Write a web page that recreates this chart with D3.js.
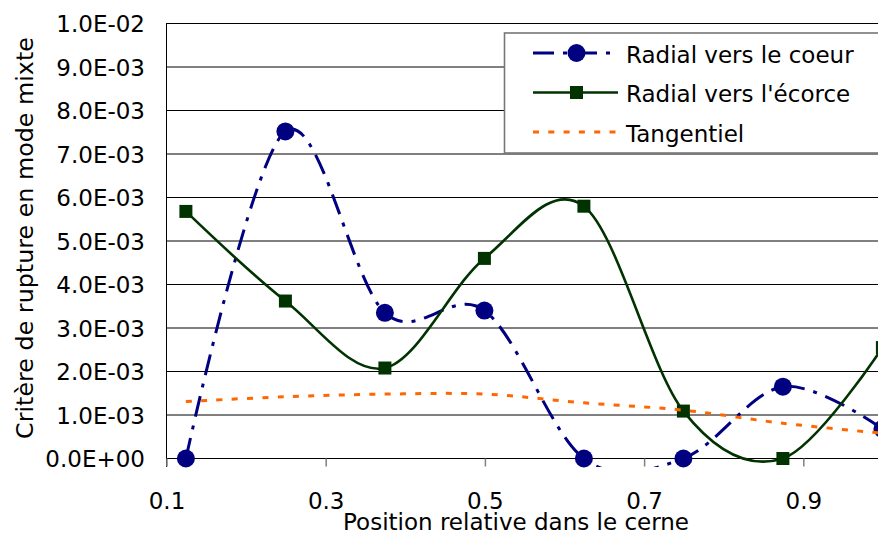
<!DOCTYPE html>
<html>
<head>
<meta charset="utf-8">
<script src="https://cdn.jsdelivr.net/npm/d3@7/dist/d3.min.js"></script>
<style>
  html, body { margin: 0; padding: 0; background: #fff; }
  svg { display: block; }
  text { font-family: "DejaVu Sans", sans-serif; fill: #000; }
</style>
</head>
<body>
<svg id="chart" width="878" height="534"></svg>
<script>
// ---- data ----
const positions = [0.125, 0.25, 0.375, 0.5, 0.625, 0.75, 0.875, 1.0];
const radialCoeur = [0, 7.52e-3, 3.35e-3, 3.40e-3, 0, 0, 1.65e-3, 0.68e-3];
const radialEcorce = [5.68e-3, 3.62e-3, 2.08e-3, 4.60e-3, 5.80e-3, 1.09e-3, 0, 2.55e-3];
const tangentiel = [1.31e-3, 1.42e-3, 1.48e-3, 1.48e-3, 1.28e-3, 1.11e-3, 0.81e-3, 0.58e-3];
const xTickValues = [0.1, 0.3, 0.5, 0.7, 0.9];
const yTickValues = [0, 1e-3, 2e-3, 3e-3, 4e-3, 5e-3, 6e-3, 7e-3, 8e-3, 9e-3, 1e-2];
const seriesNames = ["Radial vers le coeur", "Radial vers l'écorce", "Tangentiel"];
const xTitle = "Position relative dans le cerne";
const yTitle = "Critère de rupture en mode mixte";

// ---- layout ----
const svg = d3.select("#chart");
const x = d3.scaleLinear().domain([0.1, 1.1]).range([166, 962]);
const y = d3.scaleLinear().domain([0, 0.01]).range([458.5, 23.5]);

function sci(v) {
  const s = v.toExponential(1).toUpperCase(); // e.g. 1.0E-2
  const m = s.match(/^(.*)E([+-])(\d+)$/);
  return m[1] + "E" + m[2] + m[3].padStart(2, "0");
}

// gridlines
svg.append("g").selectAll("line").data(yTickValues).join("line")
  .attr("x1", 166).attr("x2", 878)
  .attr("y1", d => y(d)).attr("y2", d => y(d))
  .attr("stroke", "#000").attr("stroke-width", 1);

// y axis line
svg.append("line").attr("x1", 166.5).attr("x2", 166.5)
  .attr("y1", y(0.01)).attr("y2", 467)
  .attr("stroke", "#000").attr("stroke-width", 1);

// x axis ticks
const xAxis = d3.axisBottom(x).tickValues(xTickValues).tickSize(8).tickPadding(16)
  .tickFormat(d3.format(".1f"));
const gx = svg.append("g").attr("transform", `translate(0.5,${y(0)})`).call(xAxis);
gx.select(".domain").remove();
gx.selectAll(".tick line").attr("stroke", "#808080").attr("stroke-width", 1.5);
gx.selectAll(".tick text").attr("font-size", 23).attr("font-family", "DejaVu Sans")
  .attr("fill", "#000").attr("y", 0).attr("dy", 0)
  .attr("transform", "translate(0,50)");

// y tick labels
svg.append("g").selectAll("text").data(yTickValues).join("text")
  .attr("x", 145).attr("y", d => y(d) + 8.6)
  .attr("text-anchor", "end").attr("font-size", 23)
  .text(d => sci(d));

// axis titles
svg.append("text").attr("x", 516).attr("y", 530)
  .attr("text-anchor", "middle").attr("font-size", 23).text(xTitle);
svg.append("text").attr("transform", "translate(33,238) rotate(-90)")
  .attr("text-anchor", "middle").attr("font-size", 23.8).text(yTitle);

// clip
svg.append("clipPath").attr("id", "plotclip").append("rect")
  .attr("x", 166).attr("y", 0).attr("width", 800).attr("height", 467);

const line = d3.line().x(d => x(d[0])).y(d => y(d[1])).curve(d3.curveCatmullRom.alpha(0));
const pts = arr => positions.map((p, i) => [p, arr[i]]);

const navy = "#000080", green = "#003300", orange = "#FF6600";
const navyDash = "21,9,4,9", orangeDash = "6,9.3";

// series 1: Radial vers le coeur
svg.append("path").datum(pts(radialCoeur)).attr("d", line)
  .attr("clip-path", "url(#plotclip)")
  .attr("fill", "none").attr("stroke", navy).attr("stroke-width", 3)
  .attr("stroke-dasharray", navyDash);
svg.append("g").selectAll("circle").data(pts(radialCoeur)).join("circle")
  .attr("cx", d => x(d[0])).attr("cy", d => y(d[1])).attr("r", 9)
  .attr("fill", navy);

// series 2: Radial vers l'écorce
svg.append("path").datum(pts(radialEcorce)).attr("d", line)
  .attr("clip-path", "url(#plotclip)")
  .attr("fill", "none").attr("stroke", green).attr("stroke-width", 2.6);
svg.append("g").selectAll("rect").data(pts(radialEcorce)).join("rect")
  .attr("x", d => x(d[0]) - 6.5).attr("y", d => y(d[1]) - 6.5)
  .attr("width", 13).attr("height", 13).attr("fill", green);

// series 3: Tangentiel
svg.append("path").datum(pts(tangentiel)).attr("d", line)
  .attr("clip-path", "url(#plotclip)")
  .attr("fill", "none").attr("stroke", orange).attr("stroke-width", 3)
  .attr("stroke-dasharray", orangeDash);

// legend
const lg = svg.append("g");
lg.append("rect").attr("x", 504.5).attr("y", 33).attr("width", 400).attr("height", 120)
  .attr("fill", "#fff").attr("stroke", "#777").attr("stroke-width", 1.6);
const rowsY = [53, 92.5, 132];
const lx1 = 533, lx2 = 618, mx = 576.5;
// row 1
lg.append("line").attr("x1", lx1).attr("x2", lx2).attr("y1", rowsY[0]).attr("y2", rowsY[0])
  .attr("stroke", navy).attr("stroke-width", 3).attr("stroke-dasharray", navyDash);
lg.append("circle").attr("cx", mx).attr("cy", rowsY[0]).attr("r", 9).attr("fill", navy);
// row 2
lg.append("line").attr("x1", lx1).attr("x2", lx2).attr("y1", rowsY[1]).attr("y2", rowsY[1])
  .attr("stroke", green).attr("stroke-width", 2.6);
lg.append("rect").attr("x", mx - 6.5).attr("y", rowsY[1] - 6.5).attr("width", 13).attr("height", 13)
  .attr("fill", green);
// row 3
lg.append("line").attr("x1", lx1).attr("x2", lx2).attr("y1", rowsY[2]).attr("y2", rowsY[2])
  .attr("stroke", orange).attr("stroke-width", 3).attr("stroke-dasharray", orangeDash);
lg.selectAll("text.leg").data(seriesNames).join("text").attr("class", "leg")
  .attr("x", 626).attr("y", (d, i) => rowsY[i] + 9.5).attr("font-size", 23)
  .text(d => d);
</script>
</body>
</html>
